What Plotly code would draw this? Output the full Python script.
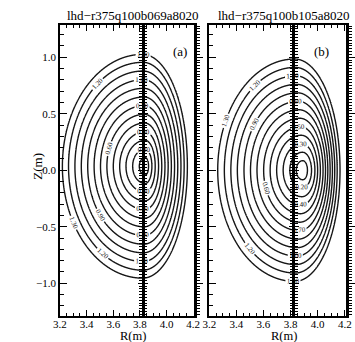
import numpy as np
import plotly.graph_objects as go

W, H = 355, 342
FONT = "Liberation Serif"

# ---------------- data ----------------
levels = [0.1, 0.2, 0.3, 0.4, 0.5, 0.6, 0.7, 0.8, 0.9, 1.0, 1.1, 1.2, 1.3]

# panel (a): per-surface geometry (apex R, inboard / outboard midplane R, half height)
a_rc = [3.840, 3.840, 3.839, 3.838, 3.836, 3.834, 3.832, 3.830, 3.828, 3.826, 3.824, 3.822, 3.820]
a_rin = [3.795, 3.745, 3.695, 3.648, 3.600, 3.552, 3.504, 3.456, 3.408, 3.360, 3.312, 3.264, 3.218]
a_rout = [3.865, 3.890, 3.915, 3.940, 3.964, 3.988, 4.012, 4.036, 4.060, 4.084, 4.108, 4.132, 4.156]
a_hh = [0.077, 0.153, 0.230, 0.306, 0.383, 0.460, 0.536, 0.613, 0.690, 0.766, 0.843, 0.920, 0.990]
a_zc = 0.035

# panel (b)
b_rc = [3.890, 3.888, 3.884, 3.879, 3.874, 3.869, 3.864, 3.858, 3.852, 3.846, 3.840, 3.835, 3.830]
b_rin = [3.842, 3.794, 3.745, 3.697, 3.649, 3.601, 3.552, 3.504, 3.456, 3.407, 3.359, 3.311, 3.262]
b_rout = [3.925, 3.955, 3.980, 4.000, 4.020, 4.040, 4.058, 4.075, 4.092, 4.109, 4.126, 4.144, 4.165]
b_hh = [0.085, 0.160, 0.235, 0.310, 0.385, 0.460, 0.535, 0.610, 0.685, 0.760, 0.835, 0.910, 0.984]
b_zc = 0.0

titles = ["lhd\u2212r375q100b069a8020", "lhd\u2212r375q100b105a8020"]
tags = ["(a)", "(b)"]
x_ticks = [3.2, 3.4, 3.6, 3.8, 4.0, 4.2]
y_ticks = [-1.0, -0.5, 0.0, 0.5, 1.0]
wall_r = 3.82

x_range_a = [3.2, 4.205]
x_range_b = [3.2, 4.21]
y_range = [-1.29, 1.285]


def flux_field(R, Z, rc, rin, rout, hh, zc, lev):
    RR, ZZ = np.meshgrid(R, Z)
    K = len(lev)
    lev = np.asarray(lev)
    S = np.empty((K,) + RR.shape)
    for k in range(K):
        a = np.where(RR < rc[k], rc[k] - rin[k], rout[k] - rc[k])
        S[k] = np.sqrt(((RR - rc[k]) / a) ** 2 + ((ZZ - zc) / hh[k]) ** 2)
    j = K - (S < 1).sum(0)
    out = np.empty(RR.shape)
    jj = np.clip(j, 1, K - 1)
    s_prev = np.take_along_axis(S, (jj - 1)[None], 0)[0]
    s_cur = np.take_along_axis(S, jj[None], 0)[0]
    t = (s_prev - 1) / np.maximum((s_prev - 1) + (1 - s_cur), 1e-9)
    mid = lev[jj - 1] + t * (lev[jj] - lev[jj - 1])
    out[:] = mid
    out[j == 0] = (lev[0] * S[0])[j == 0]
    out[j == K] = (lev[-1] * S[-1])[j == K]
    return out


R = np.linspace(3.2, 4.21, 420)
Z = np.linspace(-1.29, 1.29, 520)
fa = flux_field(R, Z, a_rc, a_rin, a_rout, a_hh, a_zc, levels)
fb = flux_field(R, Z, b_rc, b_rin, b_rout, b_hh, b_zc, levels)


def contour(f, xa, ya):
    return go.Contour(
        x=R, y=Z, z=f, xaxis=xa, yaxis=ya,
        contours=dict(start=levels[0], end=levels[-1], size=0.1, coloring="lines",
                      showlabels=True, labelformat=".2f",
                      labelfont=dict(family=FONT, size=7, color="#111")),
        colorscale=[[0, "#161616"], [1, "#161616"]],
        line=dict(width=1.4), showscale=False, hoverinfo="skip",
    )


fig = go.Figure()
fig.add_trace(contour(fa, "x", "y"))
fig.add_trace(contour(fb, "x2", "y2"))

# empty helper traces so every overlay axis gets a subplot
for xa, ya in [("x", "y3"), ("x", "y4"), ("x", "y5"), ("x2", "y6"), ("x2", "y7"), ("x2", "y8")]:
    fig.add_trace(go.Scatter(x=[], y=[], xaxis=xa, yaxis=ya, showlegend=False))

ydom = [1 - 316 / H, 1 - 25 / H]
xdom_a = [55 / W, 194 / W]
xdom_b = [210 / W, 352 / W]


def frac(r, dom, rng):
    return dom[0] + (r - rng[0]) / (rng[1] - rng[0]) * (dom[1] - dom[0])


tickfont = dict(family=FONT, size=11, color="black")

xcommon = dict(tickmode="array", tickvals=x_ticks, ticktext=[f"{v:.1f}" for v in x_ticks],
               ticks="inside", ticklen=6, tickwidth=1, tickcolor="black",
               minor=dict(dtick=0.05, tick0=3.2, ticklen=3.5, ticks="inside", tickcolor="black"),
               showline=True, linewidth=1.5, linecolor="black", mirror="ticks",
               showgrid=False, zeroline=False, tickfont=tickfont, ticklabelstandoff=-3)

ycommon = dict(range=y_range, domain=ydom, tickmode="array", tickvals=y_ticks,
               ticktext=[f"{v:.1f}".replace("-", "\u2212") for v in y_ticks],
               ticks="inside", ticklen=7, tickwidth=1, tickcolor="black",
               minor=dict(dtick=0.1, tick0=0, ticklen=4, ticks="inside", tickcolor="black"),
               showline=True, linewidth=1.5, linecolor="black",
               showgrid=False, zeroline=False, tickfont=tickfont)

dense = dict(range=y_range, dtick=0.5, tick0=0, ticks="outside", ticklen=6, tickwidth=1,
             tickcolor="black",
             minor=dict(dtick=0.025, tick0=0, ticklen=3.5, ticks="outside", tickcolor="black"),
             showline=True, linewidth=2.5, linecolor="black", showticklabels=False,
             showgrid=False, zeroline=False)

center = dict(range=y_range, dtick=0.5, tick0=0, ticks="outside", ticklen=4, tickwidth=1,
              tickcolor="black",
              minor=dict(dtick=0.025, tick0=0, ticklen=2.5, ticks="outside", tickcolor="black"),
              showline=True, linewidth=2.5, linecolor="black", showticklabels=False,
              showgrid=False, zeroline=False)

pos_a = frac(wall_r, xdom_a, x_range_a)
pos_b = frac(wall_r, xdom_b, x_range_b)

fig.update_layout(
    width=W, height=H, margin=dict(l=0, r=0, t=0, b=0),
    paper_bgcolor="white", plot_bgcolor="white", showlegend=False,
    xaxis=dict(xcommon, domain=xdom_a, range=x_range_a, anchor="y"),
    xaxis2=dict(xcommon, domain=xdom_b, range=x_range_b, anchor="y2"),
    yaxis=dict(ycommon, anchor="x"),
    yaxis2=dict(ycommon, anchor="x2", showticklabels=False),
    yaxis3=dict(dense, overlaying="y", side="right", anchor="x"),
    yaxis4=dict(center, overlaying="y", side="left", anchor="free", position=pos_a),
    yaxis5=dict(center, overlaying="y", side="right", anchor="free", position=pos_a),
    yaxis6=dict(dense, overlaying="y2", side="right", anchor="x2"),
    yaxis7=dict(center, overlaying="y2", side="left", anchor="free", position=pos_b),
    yaxis8=dict(center, overlaying="y2", side="right", anchor="free", position=pos_b),
)

ann = []
for i, cx in enumerate([131, 288]):
    ann.append(dict(text=titles[i], x=cx / W, y=1 - 15 / H, xref="paper", yref="paper",
                    showarrow=False, font=dict(family=FONT, size=13, color="black"),
                    xanchor="center", yanchor="middle"))
    ann.append(dict(text="R(m)", x=cx / W, y=1 - 336 / H, xref="paper", yref="paper",
                    showarrow=False, font=dict(family=FONT, size=12.5, color="black"),
                    xanchor="center", yanchor="middle"))
ann.append(dict(text=tags[0], x=180 / W, y=1 - 42 / H, xref="paper", yref="paper",
                showarrow=False, font=dict(family=FONT, size=13, color="black")))
ann.append(dict(text=tags[1], x=336 / W, y=1 - 42 / H, xref="paper", yref="paper",
                showarrow=False, font=dict(family=FONT, size=13, color="black")))
ann.append(dict(text="Z(m)", x=21 / W, y=1 - 166 / H, xref="paper", yref="paper",
                showarrow=False, textangle=-90, font=dict(family=FONT, size=13, color="black")))
fig.update_layout(annotations=ann)

fig.write_html("out.html", config={"displayModeBar": False},
               post_script="document.body.style.margin='0';document.body.style.overflow='hidden';")
